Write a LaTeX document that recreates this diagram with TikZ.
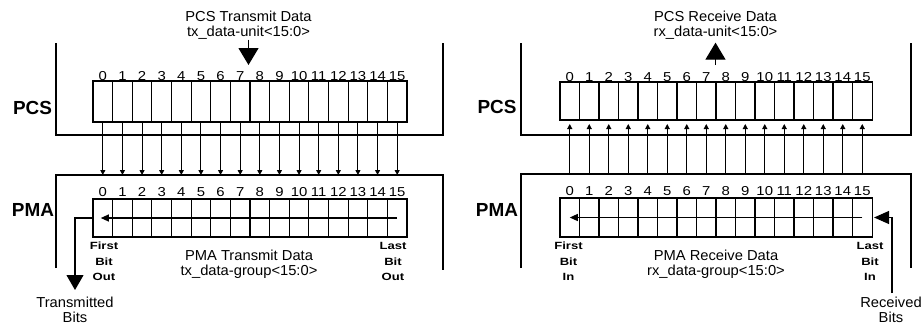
\documentclass[tikz,border=0pt]{standalone}
\usepackage{fontspec}
\setmainfont{Liberation Sans}
\newfontfamily\numfont{Liberation Sans}[FakeStretch=1.15]
\newfontfamily\lblfont{Liberation Sans}[FakeStretch=1.25]
\newfontfamily\ttlfont{Liberation Sans}[FakeStretch=1.02]
\usetikzlibrary{arrows.meta}
\begin{document}
\begin{tikzpicture}[x=1bp,y=-1bp,
  every node/.style={inner sep=0pt, outer sep=0pt},
  ln/.style={line width=1.1bp},
  cell/.style={draw, line width=1.1bp, minimum width=19.6bp, inner sep=0pt, outer sep=0pt},
  num/.style={font=\numfont\fontsize{13}{13}\selectfont},
  ttl/.style={align=center, font=\ttlfont\fontsize{14.5}{15}\selectfont},
  side/.style={font=\bfseries\fontsize{19}{19}\selectfont},
  edgelbl/.style={align=center, font=\lblfont\bfseries\fontsize{10.5}{15.5}\selectfont},
  bitarrow/.style={line width=1.1bp, -{Triangle[length=5bp,width=5bp]}},
  bigarrow/.style={line width=1.2bp, -{Triangle[length=17bp,width=20bp]}},
  tbarrow/.style={line width=1.1bp, -{Triangle[length=15bp,width=17bp]}},
  rbarrow/.style={line width=1.1bp, -{Triangle[length=15bp,width=13bp]}},
  midarrow/.style={line width=1.1bp, -{Triangle[length=8bp,width=7bp]}}
]
\useasboundingbox (0,0) rectangle (922,326);

% ---------- left panel (transmit) ----------
\draw[ln] (56,43) -- (56,135) -- (443,135) -- (443,43);
\draw[ln] (56,268) -- (56,175) -- (443,175) -- (443,270);
\foreach \i in {0,...,15}{
  \pgfmathsetmacro\cx{93+19.625*(\i+0.5)}
  \node[cell, minimum height=41bp] (tc\i) at (\cx,101.5) {};
  \node[num] (tcn\i) at (\cx,76) {\i};
  \node[cell, minimum height=38bp] (tp\i) at (\cx,218) {};
  \node[num] (tpn\i) at (\cx,192) {\i};
  \coordinate (ta\i) at (\cx,175);
  \draw[bitarrow] (tc\i.south) -- (ta\i);
}
\draw[midarrow, shorten >=-2bp] (tp15.center) -- (tp0.center);

\node[ttl] (ttitle) at (248.5,25.5) {PCS Transmit Data\\tx\_data-unit<15:0>};
\coordinate (tin) at (248.5,65);
\draw[bigarrow] (ttitle.south) -- (tin);

\node[side] (lpcs) at (32.5,107.5) {PCS};
\node[side] (lpma) at (33,209.5) {PMA};

\node[edgelbl] (tfirst) at (104,261.5) {First\\Bit\\Out};
\node[edgelbl] (tlast) at (393,261.5) {Last\\Bit\\Out};
\node[ttl] (tpma) at (249,264.5) {PMA Transmit Data\\tx\_data-group<15:0>};

\node[ttl] (tbits) at (75,309.5) {Transmitted\\Bits};
\coordinate (tbitsend) at (75,290);
\draw[tbarrow] (tp0.west) -| (tbitsend);

% ---------- right panel (receive) ----------
\draw[ln] (521,43) -- (521,135) -- (911,135) -- (911,43);
\draw[ln] (521,268) -- (521,174) -- (911,174) -- (911,268);
\foreach \i in {0,...,15}{
  \pgfmathsetmacro\cx{560+19.5*(\i+0.5)}
  \node[cell, minimum height=38bp] (rc\i) at (\cx,101) {};
  \node[num] (rcn\i) at (\cx,77) {\i};
  \node[cell, minimum height=39bp] (rp\i) at (\cx,217.5) {};
  \node[num] (rpn\i) at (\cx,191) {\i};
  \coordinate (ra\i) at (\cx,174);
  \draw[bitarrow, shorten >=4bp] (ra\i) -- (rc\i.south);
}
\draw[midarrow] (rp15.center) -- (rp0.center);

\node[ttl] (rtitle) at (715.5,25.5) {PCS Receive Data\\rx\_data-unit<15:0>};
\coordinate (rout) at (715.5,65);
\draw[bigarrow, shorten >=3bp] (rout) -- (rtitle.south);

\node[side] (rpcs) at (497,106.5) {PCS};
\node[side] (rpma) at (497,210) {PMA};

\node[edgelbl] (rfirst) at (568.5,261.5) {First\\Bit\\In};
\node[edgelbl] (rlast) at (870,261.5) {Last\\Bit\\In};
\node[ttl] (rpmalbl) at (716,264.5) {PMA Receive Data\\rx\_data-group<15:0>};

\node[ttl] (rbits) at (891,309.5) {Received\\Bits};
\coordinate (rbitsstart) at (892,293);
\draw[rbarrow, shorten >=2bp] (rbitsstart) |- (rp15.east);
\end{tikzpicture}
\end{document}
